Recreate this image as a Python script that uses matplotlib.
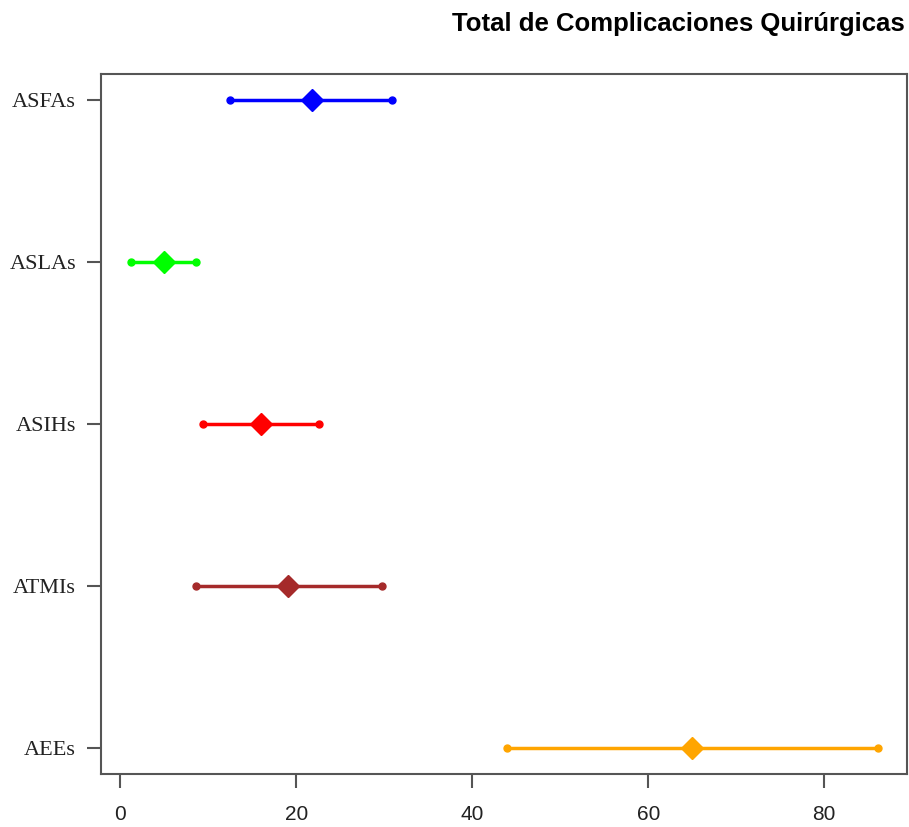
import numpy as np
import matplotlib.pyplot as plt

groups = ['ASFAs', 'ASLAs', 'ASIHs', 'ATMIs', 'AEEs']
low = [12.5, 1.2, 9.4, 8.6, 43.9]
mean = [21.8, 5.0, 16.0, 19.1, 65.0]
high = [30.9, 8.6, 22.6, 29.7, 86.1]
colors = ['#0000FF', '#00FF00', '#FF0000', '#A52A2A', '#FFA500']

fig = plt.figure(figsize=(9.09, 8.27), dpi=100)
ax = fig.add_axes([101/909, 1-774/827, 806/909, 700/827])

ypos = np.arange(len(groups), 0, -1)
for i in range(len(groups)):
    ax.plot([low[i], high[i]], [ypos[i], ypos[i]], color=colors[i], lw=2.5)
    ax.plot([low[i], high[i]], [ypos[i], ypos[i]], 'o', color=colors[i], ms=5)
    ax.plot(mean[i], ypos[i], 'D', color=colors[i], ms=11)

ax.set_xlim(-2.2, 89.4)
ax.set_ylim(0.84, 5.16)
ax.set_xticks([0, 20, 40, 60, 80])
ax.set_yticks(ypos)
ax.set_yticklabels(groups, fontfamily='Liberation Serif', fontsize=16)
for lab in ax.get_xticklabels():
    lab.set_fontfamily('Liberation Sans')
    lab.set_fontsize(15)

for s in ax.spines.values():
    s.set_color('#555555')
    s.set_linewidth(1.5)
ax.tick_params(colors='#555555', length=10, width=1.5, labelcolor='#222222')
ax.tick_params(axis='x', pad=12)
ax.tick_params(axis='y', pad=8)

fig.text(905/909, 1-24/827, 'Total de Complicaciones Quirúrgicas', ha='right', va='center',
         fontfamily='Liberation Sans', fontweight='bold', fontsize=18.5)

fig.savefig('out.png')
